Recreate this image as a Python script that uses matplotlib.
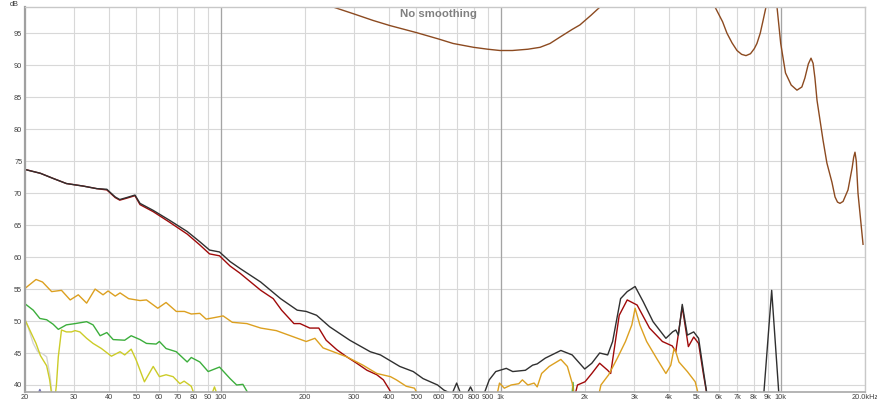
import matplotlib
matplotlib.use("Agg")
import matplotlib.pyplot as plt
from matplotlib.ticker import NullLocator

# --- data (Hz, dB) ---
brown_f = [230, 252, 300, 350, 402, 500, 600, 676, 800, 900, 994, 1100, 1250, 1382, 1500, 1628,
           1800, 1918, 2100, 2262, 2500, 5400, 5826, 6200, 6428, 6700, 6980, 7250, 7516, 7800,
           8050, 8224, 8450, 8650, 8900, 9200, 9500, 9700, 10000, 10400, 10900, 11430, 11900,
           12200, 12550, 12830, 13050, 13250, 13480, 14160, 14620, 15240, 15630, 15950, 16280,
           16700, 17390, 18000, 18220, 18420, 18620, 18880, 19680]
brown_db = [101.5, 99.1, 98.0, 97.0, 96.2, 95.1, 94.1, 93.4, 92.8, 92.5, 92.3, 92.3, 92.5, 92.8,
            93.4, 94.4, 95.6, 96.3, 97.8, 99.1, 101.5, 101.5, 99.1, 96.8, 95.0, 93.5, 92.3,
            91.7, 91.5, 91.8, 92.6, 93.4, 95.0, 97.0, 99.5, 102.0, 101.0, 99.1, 93.4, 88.8,
            86.9, 86.1, 86.6, 88.0, 90.2, 91.1, 90.3, 88.0, 84.5, 78.3, 74.7, 71.7, 69.4, 68.6,
            68.4, 68.7, 70.5, 74.0, 75.6, 76.4, 75.0, 70.0, 62.0]

black_f = [20, 22.7, 25.2, 28.1, 32.3, 36.1, 39.2, 42.0, 43.6, 46.1, 49.4, 51.5, 57.4, 65.4, 75.9,
           84.2, 91.2, 99, 108, 117.4, 138.9, 163.6, 187.6, 202, 220, 245, 289, 342, 372, 436,
           487, 528, 595, 627, 670, 696, 720, 760, 780, 800, 870, 910, 960, 1047, 1104, 1225,
           1300, 1350, 1443, 1640, 1800, 1995, 2115, 2256, 2410, 2510, 2680, 2830, 3020, 3230,
           3500, 3890, 4110, 4220, 4310, 4450, 4640, 4890, 5090, 5300, 5500]
black_db = [73.7, 73.1, 72.3, 71.5, 71.1, 70.7, 70.6, 69.4, 69.0, 69.3, 69.7, 68.4, 67.3, 65.8,
            64.0, 62.4, 61.1, 60.8, 59.3, 58.2, 56.1, 53.5, 51.7, 51.5, 50.9, 49.1, 47.0, 45.2,
            44.7, 42.9, 42.1, 41.0, 40.0, 39.2, 38.6, 40.3, 38.6, 38.7, 39.7, 38.7, 38.5, 40.8,
            42.1, 42.6, 42.1, 42.3, 43.1, 43.3, 44.2, 45.4, 44.7, 42.5, 43.4, 45.0, 44.7, 46.8,
            53.5, 54.6, 55.4, 53.0, 49.9, 47.3, 48.3, 48.6, 47.8, 52.6, 47.8, 48.3, 47.3, 42.1,
            37.5]

spike_f = [8680, 9284, 9870]
spike_db = [38.0, 54.8, 38.0]

red_f = [20, 22.7, 25.2, 28.1, 32.3, 36.1, 39.2, 42.0, 43.6, 46.1, 49.4, 51.5, 57.4, 65.4, 75.9,
         84.2, 91.2, 99, 108, 117, 139, 154, 165, 182.6, 192, 208, 224, 238, 260, 282, 306, 333,
         361, 381, 400, 420, 1820, 1880, 2000, 2115, 2256, 2410, 2470, 2650, 2830, 3070, 3400,
         3780, 4100, 4220, 4450, 4680, 4890, 5090, 5300, 5500]
red_db = [73.7, 73.1, 72.3, 71.5, 71.1, 70.7, 70.5, 69.3, 68.9, 69.2, 69.6, 68.2, 67.1, 65.5,
          63.6, 61.9, 60.5, 60.2, 58.6, 57.5, 54.8, 53.5, 51.7, 49.6, 49.6, 48.9, 48.9, 47.0,
          45.5, 44.4, 43.4, 42.3, 41.6, 40.8, 39.3, 37.5, 37.5, 40.0, 40.5, 41.8, 43.4, 42.3,
          41.8, 50.9, 53.3, 52.5, 48.9, 46.8, 46.1, 45.2, 52.2, 46.0, 47.5, 46.5, 41.6, 37.5]

orange_f = [20, 21.9, 23.1, 24.9, 27.0, 29.0, 31.0, 33.2, 35.6, 38.0, 39.6, 42.0, 43.7, 46.9, 51.5,
            54.3, 59.6, 63.8, 69.4, 74.2, 78.5, 84.2, 88.7, 94, 102, 110, 124, 139, 158, 182.6,
            202, 217, 232, 282, 322, 361, 404, 424, 460, 492, 520, 960, 990, 1030, 1090, 1160,
            1195, 1250, 1316, 1350, 1400, 1490, 1640, 1730, 1800, 1840, 2215, 2280, 2430, 2610,
            2790, 2940, 3020, 3140, 3320, 3600, 3890, 4050, 4160, 4220, 4330, 4640, 4950, 5150]
orange_db = [55.1, 56.5, 56.1, 54.6, 54.8, 53.3, 54.1, 52.8, 55.0, 54.1, 54.7, 53.9, 54.4, 53.5,
             53.2, 53.3, 52.0, 52.9, 51.5, 51.5, 51.1, 51.2, 50.3, 50.5, 50.8, 49.8, 49.6, 48.9,
             48.5, 47.5, 46.8, 47.3, 45.8, 44.4, 43.1, 41.8, 41.3, 40.8, 39.8, 39.5, 37.5, 37.5,
             40.3, 39.5, 40.0, 40.2, 40.8, 40.0, 40.3, 39.7, 41.8, 42.9, 44.0, 42.9, 40.3, 37.5,
             37.5, 40.0, 41.6, 44.2, 46.8, 49.4, 52.0, 49.4, 46.8, 44.2, 41.8, 43.1, 45.7, 45.2,
             43.6, 42.1, 40.5, 37.5]

green_f = [20, 21.4, 22.6, 23.9, 25.2, 26.3, 28.1, 30.2, 33.2, 35.0, 37.1, 39.2, 41.3, 45.4, 47.9,
           51.5, 54.3, 58.8, 60.4, 63.8, 69.4, 75.9, 78.5, 84.2, 90.2, 99, 108, 114, 120, 130,
           1790, 1812, 1830]
green_db = [52.7, 51.7, 50.4, 50.2, 49.5, 48.7, 49.4, 49.6, 49.9, 49.4, 47.7, 48.2, 47.1, 47.0,
            47.7, 47.1, 46.5, 46.4, 46.8, 45.7, 45.2, 43.6, 44.3, 43.6, 42.1, 42.8, 41.0, 40.0,
            40.1, 37.5, 37.5, 40.4, 37.5]

yellow_f = [20, 20.8, 21.9, 22.7, 23.9, 24.5, 25.0, 25.5, 25.9, 26.3, 27.0, 28.1, 29.3, 30.2, 31.4,
            33.2, 35.0, 37.5, 40.7, 43.7, 45.4, 47.9, 49.9, 53.4, 57.4, 60.4, 63.8, 67.6, 71.5,
            74, 78.5, 82, 91, 95, 99]
yellow_db = [50.2, 48.6, 46.5, 44.6, 43.0, 40.8, 38.0, 37.5, 40.0, 44.4, 48.6, 48.3, 48.3, 48.5,
             48.3, 47.3, 46.5, 45.7, 44.5, 45.2, 44.7, 45.6, 43.9, 40.5, 42.9, 41.3, 41.6, 41.3,
             40.2, 40.6, 39.8, 37.5, 37.5, 39.7, 37.5]

gray_f = [20, 20.5, 21.4, 22.2, 23.1, 23.9, 24.6, 25.1]
gray_db = [50.2, 49.1, 46.5, 45.2, 44.9, 44.4, 41.3, 37.5]

blue_f = [22.0, 22.6, 23.2]
blue_db = [38.0, 39.3, 38.0]

xticks = [20, 30, 40, 50, 60, 70, 80, 90, 100, 200, 300, 400, 500, 600, 700, 800, 900,
          1000, 2000, 3000, 4000, 5000, 6000, 7000, 8000, 9000, 10000, 20000]
xlabels = ["20", "30", "40", "50", "60", "70", "80", "90", "100", "200", "300", "400", "500",
           "600", "700", "800", "900", "1k", "2k", "3k", "4k", "5k", "6k", "7k", "8k", "9k",
           "10k", "20.0kHz"]
yticks = [40, 45, 50, 55, 60, 65, 70, 75, 80, 85, 90, 95]

plt.rcParams['font.family'] = ['Liberation Sans', 'DejaVu Sans']

fig = plt.figure(figsize=(8.77, 4.03), dpi=100)
ax = fig.add_axes([25 / 877, (403 - 391.7) / 403, 840 / 877, (391.7 - 6.7) / 403])
ax.set_xscale('log')
ax.set_xlim(20, 20000)
ax.set_ylim(38.95, 99.15)

ax.set_xticks(xticks, labels=xlabels)
ax.xaxis.set_minor_locator(NullLocator())
ax.set_yticks(yticks)
ax.tick_params(length=0, labelsize=5.3, colors='#404040', pad=2)
ax.grid(True, color='#d8d8d8', lw=0.8)
for f in [100, 1000, 10000]:
    ax.axvline(f, color='#a4a4a4', lw=0.9, zorder=1)
ax.set_axisbelow(True)

for side in ['top', 'right']:
    ax.spines[side].set_color('#c8c8c8')
    ax.spines[side].set_linewidth(1.0)
ax.spines['left'].set_color('#a0a0a0')
ax.spines['left'].set_linewidth(1.6)
ax.spines['bottom'].set_color('#a8a8a8')
ax.spines['bottom'].set_linewidth(1.2)

lw = 1.0
ax.plot(brown_f, brown_db, color='#8c4a20', lw=lw)
ax.plot(gray_f, gray_db, color='#d4d4d4', lw=lw)
ax.plot(blue_f, blue_db, color='#7272b4', lw=lw)
ax.plot(yellow_f, yellow_db, color='#cccc28', lw=lw)
ax.plot(green_f, green_db, color='#3cae3c', lw=lw)
ax.plot(red_f, red_db, color='#a00a0a', lw=lw)
ax.plot(orange_f, orange_db, color='#dca020', lw=lw)
ax.plot(black_f, black_db, color='#303030', lw=lw)
ax.plot(spike_f, spike_db, color='#303030', lw=lw)

ax.text(0.4917, 0.995, 'No smoothing', transform=ax.transAxes, ha='center', va='top',
        color='#808080', fontsize=8.2, fontweight='bold')
fig.text(14 / 877, 1 - 0.5 / 403, 'dB', ha='center', va='top', fontsize=5.3, color='#404040')

fig.savefig('out.png', dpi=100)
